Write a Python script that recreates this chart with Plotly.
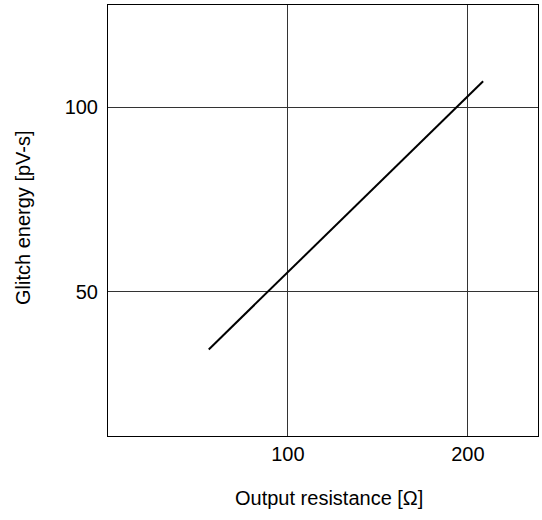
import plotly.graph_objects as go

# Data
resistance = [56.0, 208.5]
glitch_energy = [34.3, 107.1]
x_ticks = [100, 200]
y_ticks = [50, 100]
x_title = "Output resistance [Ω]"
y_title = "Glitch energy [pV-s]"

font_family = "Arial"
fs = 20

fig = go.Figure()
fig.add_trace(go.Scatter(
    x=resistance, y=glitch_energy, mode="lines",
    line=dict(color="black", width=2), showlegend=False,
))

fig.update_layout(
    width=542, height=520,
    margin=dict(l=108, r=4, t=5, b=84),
    plot_bgcolor="white", paper_bgcolor="white",
    font=dict(family=font_family, size=fs, color="black"),
)
fig.update_xaxes(
    range=[0, 239], tickvals=x_ticks, ticks="",
    tickfont=dict(family=font_family, size=fs),
    showgrid=True, gridcolor="#333", gridwidth=1,
    showline=True, mirror=True, linecolor="black", linewidth=1,
    zeroline=False,
)
fig.update_yaxes(
    range=[10.8, 127.8], tickvals=y_ticks, ticks="",
    tickfont=dict(family=font_family, size=fs),
    ticklabelstandoff=5,
    showgrid=True, gridcolor="#333", gridwidth=1,
    showline=True, mirror=True, linecolor="black", linewidth=1,
    zeroline=False,
)

fig.add_annotation(
    text=x_title, xref="paper", yref="paper",
    x=0.514, y=-0.144, xanchor="center", yanchor="middle",
    showarrow=False, font=dict(family=font_family, size=fs, color="black"),
)
fig.add_annotation(
    text=y_title, xref="paper", yref="paper", textangle=-90,
    x=-0.1965, y=0.507, xanchor="center", yanchor="middle",
    showarrow=False, font=dict(family=font_family, size=fs, color="black"),
)

fig.write_html("out.html")
